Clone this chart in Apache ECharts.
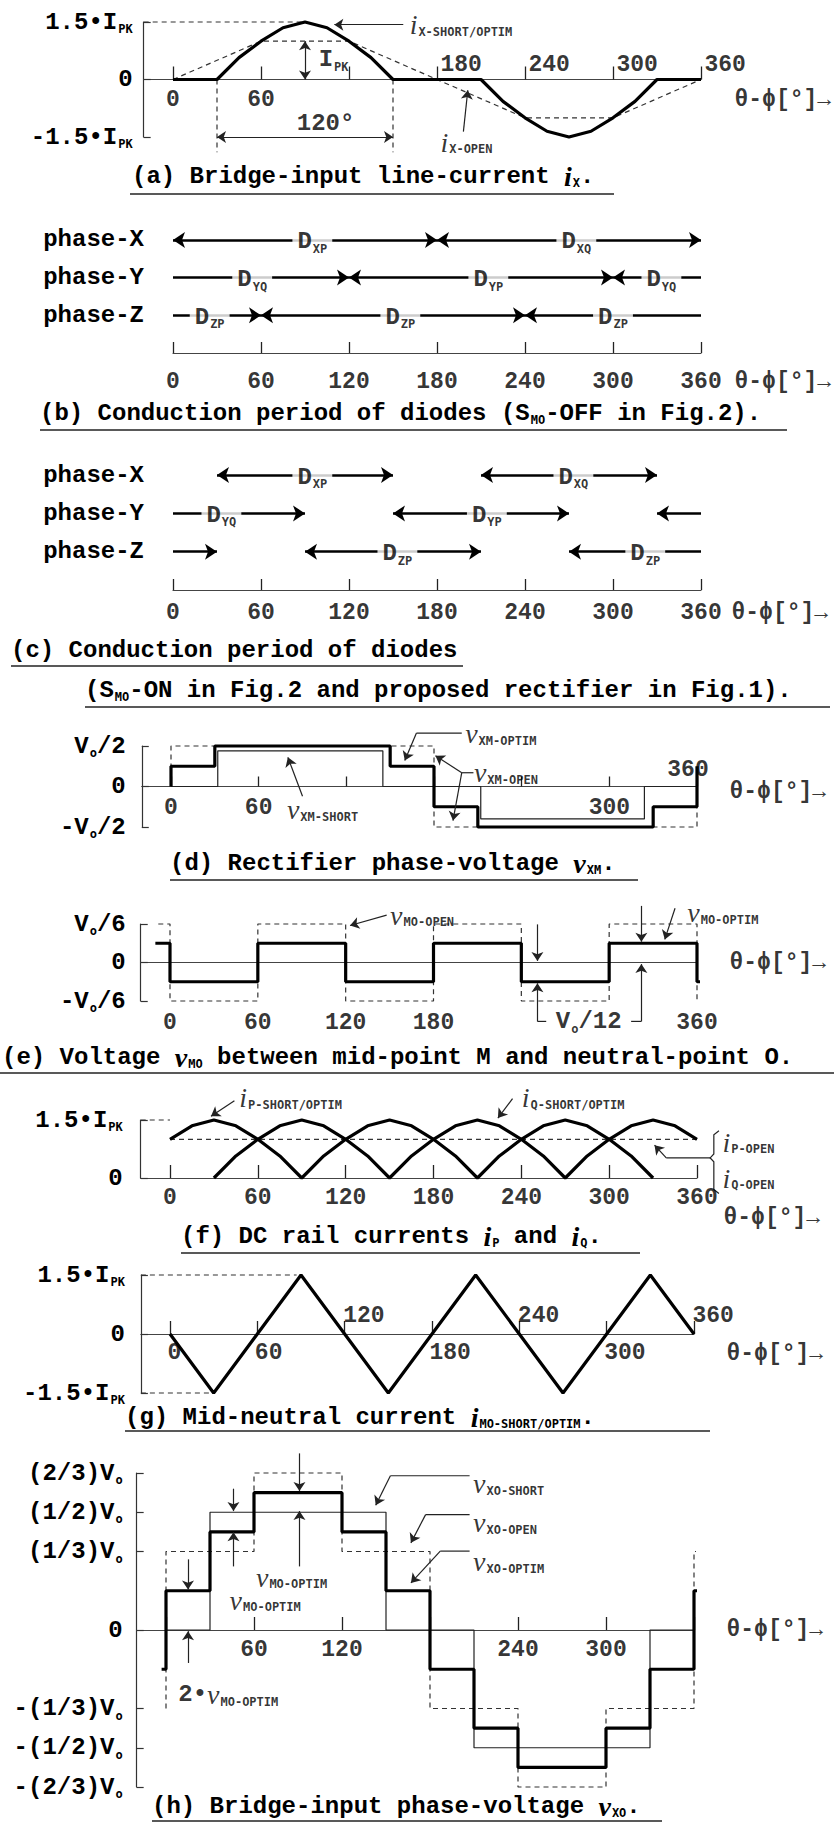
<!DOCTYPE html>
<html><head><meta charset="utf-8">
<script src="https://cdn.jsdelivr.net/npm/echarts@6.0.0/dist/echarts.min.js"></script>
<style>html,body{margin:0;padding:0;background:#fff;}#chart{width:834px;height:1823px;}</style>
</head><body><div id="chart"></div>
<script>
/* ===================== DATA ===================== */
const X_TICKS = [0, 60, 120, 180, 240, 300, 360];
const X_NAME = 'θ-ϕ[°]→';

const CAPTION_TEXTS = [
  '(a) Bridge-input line-current $i_{X}.',
  '(b) Conduction period of diodes (S_{MO}-OFF in Fig.2).',
  '(c) Conduction period of diodes',
  '(S_{MO}-ON in Fig.2 and proposed rectifier in Fig.1).',
  '(d) Rectifier phase-voltage $v_{XM}.',
  '(e) Voltage $v_{MO} between mid-point M and neutral-point O.',
  '(f) DC rail currents $i_{P} and $i_{Q}.',
  '(g) Mid-neutral current $i_{MO-SHORT/OPTIM}.',
  '(h) Bridge-input phase-voltage $v_{XO}.'
];

/* (a) bridge-input line current */
const A_Y_TICKS = [-1.5, 0, 1.5];
const A_Y_LABELS = ['-1.5•I_{PK}', '0', '1.5•I_{PK}'];
const A_XLAB_BELOW = [0, 60];
const A_XLAB_ABOVE = [180, 240, 300, 360];
const A_IX_SHORT_OPTIM = [[0,0],[30,0],[45,0.57],[60,1.0],[75,1.35],[90,1.5],[105,1.35],[120,1.0],[135,0.57],[150,0],[210,0],[225,-0.57],[240,-1.0],[255,-1.35],[270,-1.5],[285,-1.35],[300,-1.0],[315,-0.57],[330,0],[360,0]];
const A_IX_OPEN = [[0,0],[60,1.0],[120,1.0],[180,0],[240,-1.0],[300,-1.0],[360,0]];
const A_GUIDES = [[[-20,1.5],[90,1.5]], [[30,0],[30,-1.9]], [[150,0],[150,-1.9]]];
const A_TEXTS = [
  {txt:'$i_{X-SHORT/OPTIM}', at:[161,1.43]},
  {txt:'I_{PK}', at:[99,0.52]},
  {txt:'120°', at:[104,-1.14], c:true},
  {txt:'$i_{X-OPEN}', at:[182,-1.64]}
];
const A_ARROWS = [[[157,1.43],[110,1.43]], [[198,-1.36],[201,-0.28]]];
const A_ARROWS2 = [[[90,0],[90,1.0]], [[30,-1.5],[150,-1.5]]];

/* (b), (c) conduction periods: [row, from, to, arrowStart, arrowEnd, label, labelAt] */
const ROW_NAMES = ['phase-Z', 'phase-Y', 'phase-X'];
const ROW_LEVELS = [1, 2, 3];
const B_SEGMENTS = [
  [3,0,180,1,1,'D_{XP}',95],[3,180,360,1,1,'D_{XQ}',275],
  [2,0,120,0,1,'D_{YQ}',54],[2,120,300,1,1,'D_{YP}',215],[2,300,360,1,0,'D_{YQ}',333],
  [1,0,60,0,1,'D_{ZP}',25],[1,60,240,1,1,'D_{ZP}',155],[1,240,360,1,0,'D_{ZP}',300]
];
const C_SEGMENTS = [
  [3,30,150,1,1,'D_{XP}',95],[3,210,330,1,1,'D_{XQ}',273],
  [2,0,90,0,1,'D_{YQ}',33],[2,150,270,1,1,'D_{YP}',214],[2,330,360,1,0,'',0],
  [1,0,30,0,1,'',0],[1,90,210,1,1,'D_{ZP}',153],[1,270,360,1,0,'D_{ZP}',322]
];

/* (d) rectifier phase voltage */
const D_Y_TICKS = [-0.5, 0, 0.5];
const D_Y_LABELS = ['-V_{o}/2', '0', 'V_{o}/2'];
const D_XLAB_BELOW = [0, 60, 300];
const D_XLAB_ABOVE = [360];
const D_VXM_OPTIM = [[0,0],[0,0.25],[30,0.25],[30,0.5],[150,0.5],[150,0.25],[180,0.25],[180,-0.25],[210,-0.25],[210,-0.5],[330,-0.5],[330,-0.25],[360,-0.25],[360,0.25]];
const D_VXM_SHORT = [[0,0],[32,0],[32,0.44],[145,0.44],[145,0],[212,0],[212,-0.4],[324,-0.4],[324,0],[360,0]];
const D_VXM_OPEN = [[0,0],[0,0.5],[180,0.5],[180,-0.5],[360,-0.5],[360,0]];
const D_TEXTS = [
  {txt:'$v_{XM-OPTIM}', at:[201,0.65]},
  {txt:'$v_{XM-OPEN}', at:[207,0.17]},
  {txt:'$v_{XM-SHORT}', at:[79,-0.29]}
];
const D_LEADS = [[[199,0.66],[168,0.66]], [[207,0.17],[199,0.17]]];
const D_ARROWS = [[[168,0.66],[160,0.32]], [[199,0.17],[181,0.38]], [[199,0.17],[193,-0.42]], [[90,-0.12],[80,0.36]]];

/* (e) mid-point to neutral voltage */
const E_Y_TICKS = [-1/6, 0, 1/6];
const E_Y_LABELS = ['-V_{o}/6', '0', 'V_{o}/6'];
const E_XLAB_BELOW = [0, 60, 120, 180, 360];
const E_VMO_OPTIM = [[-10,1/12],[0,1/12],[0,-1/12],[60,-1/12],[60,1/12],[120,1/12],[120,-1/12],[180,-1/12],[180,1/12],[240,1/12],[240,-1/12],[300,-1/12],[300,1/12],[360,1/12],[360,-1/12],[368,-1/12]];
const E_VMO_OPEN = [[-8,1/6],[0,1/6],[0,-1/6],[60,-1/6],[60,1/6],[120,1/6],[120,-1/6],[180,-1/6],[180,1/6],[240,1/6],[240,-1/6],[300,-1/6],[300,1/6],[360,1/6],[360,-1/6]];
const E_TEXTS = [
  {txt:'$v_{MO-OPEN}', at:[150,0.205]},
  {txt:'$v_{MO-OPTIM}', at:[353,0.215]},
  {txt:'V_{o}/12', at:[286,-0.256], c:true}
];
const E_LEADS = [[[251,-0.255],[257,-0.255]], [[315,-0.255],[322,-0.255]]];
const E_ARROWS = [[[148,0.205],[123,0.16]], [[345,0.235],[338,0.1]], [[322,0.245],[322,0.09]], [[251,0.165],[251,0.007]], [[251,-0.255],[251,-0.09]], [[322,-0.255],[322,-0.007]]];

/* (f) DC rail currents */
const F_Y_TICKS = [0, 1.5];
const F_Y_LABELS = ['0', '1.5•I_{PK}'];
const F_XLAB_BELOW = [0, 60, 120, 180, 240, 300, 360];
const F_IP = [[0,1.0],[15,1.35],[30,1.5],[45,1.35],[60,1.0],[75,0.57],[90,0],[105,0.57],[120,1.0],[135,1.35],[150,1.5],[165,1.35],[180,1.0],[195,0.57],[210,0],[225,0.57],[240,1.0],[255,1.35],[270,1.5],[285,1.35],[300,1.0],[315,0.57],[330,0]];
const F_IQ = [[30,0],[45,0.57],[60,1.0],[75,1.35],[90,1.5],[105,1.35],[120,1.0],[135,0.57],[150,0],[165,0.57],[180,1.0],[195,1.35],[210,1.5],[225,1.35],[240,1.0],[255,0.57],[270,0],[285,0.57],[300,1.0],[315,1.35],[330,1.5],[345,1.35],[360,1.0]];
const F_OPEN = [[0,1.0],[360,1.0]];
const F_GUIDES = [[[-20,1.5],[0,1.5]]];
const F_TEXTS = [
  {txt:'$i_{P-SHORT/OPTIM}', at:[47,2.07]},
  {txt:'$i_{Q-SHORT/OPTIM}', at:[240,2.07]},
  {txt:'$i_{P-OPEN}', at:[377,0.93]},
  {txt:'$i_{Q-OPEN}', at:[377,0]}
];
const F_LEADS = [[[375,1.22],[371.5,1.12],[371.5,0.62],[369,0.52],[371.5,0.42],[371.5,-0.3],[375,-0.4]], [[369,0.52],[339,0.52]]];
const F_ARROWS = [[[44,2.0],[28,1.6]], [[234,2.05],[224,1.55]], [[339,0.52],[331,0.85]]];

/* (g) mid-neutral current */
const G_Y_TICKS = [-1.5, 0, 1.5];
const G_Y_LABELS = ['-1.5•I_{PK}', '0', '1.5•I_{PK}'];
const G_XLAB_BELOW = [0, 60, 180, 300];
const G_XLAB_ABOVE = [120, 240, 360];
const G_IMO = [[0,0],[30,-1.5],[90,1.5],[150,-1.5],[210,1.5],[270,-1.5],[330,1.5],[360,0]];
const G_GUIDES = [[[-20,1.5],[87,1.5]], [[-20,-1.5],[28,-1.5]]];

/* (h) bridge-input phase voltage */
const H_Y_TICKS = [-2/3, -1/2, -1/3, 0, 1/3, 1/2, 2/3];
const H_Y_LABELS = ['-(2/3)V_{o}', '-(1/2)V_{o}', '-(1/3)V_{o}', '0', '(1/3)V_{o}', '(1/2)V_{o}', '(2/3)V_{o}'];
const H_XLAB_BELOW = [60, 120, 240, 300];
const H_VXO_OPTIM = [[-3,-1/6],[0,-1/6],[0,1/6],[30,1/6],[30,5/12],[60,5/12],[60,7/12],[120,7/12],[120,5/12],[150,5/12],[150,1/6],[180,1/6],[180,-1/6],[210,-1/6],[210,-5/12],[240,-5/12],[240,-7/12],[300,-7/12],[300,-5/12],[330,-5/12],[330,-1/6],[360,-1/6],[360,1/6],[369,1/6]];
const H_VXO_SHORT = [[0,0],[30,0],[30,1/2],[150,1/2],[150,0],[210,0],[210,-1/2],[330,-1/2],[330,0],[360,0]];
const H_VXO_OPEN = [[0,-1/3],[0,1/3],[60,1/3],[60,2/3],[120,2/3],[120,1/3],[180,1/3],[180,-1/3],[240,-1/3],[240,-2/3],[300,-2/3],[300,-1/3],[360,-1/3],[360,1/3],[363,1/3]];
const H_TEXTS = [
  {txt:'$v_{XO-SHORT}', at:[209,0.62]},
  {txt:'$v_{XO-OPEN}', at:[209,0.455]},
  {txt:'$v_{XO-OPTIM}', at:[209,0.29]},
  {txt:'$v_{MO-OPTIM}', at:[61,0.225]},
  {txt:'$v_{MO-OPTIM}', at:[43,0.127]},
  {txt:'2•$v_{MO-OPTIM}', at:[8,-0.275]}
];
const H_LEADS = [[[207,0.655],[153,0.655]], [[207,0.49],[177,0.49]], [[207,0.335],[187,0.335]]];
const H_ARROWS = [[[153,0.655],[143,0.53]], [[177,0.49],[167,0.37]], [[187,0.335],[167,0.2]],
  [[46,0.6],[46,0.505]], [[46,0.27],[46,0.415]], [[91,0.75],[91,0.59]], [[91,0.27],[91,0.505]],
  [[15,0.3],[15,0.172]], [[15,-0.14],[15,-0.005]]];

/* ===================== STYLE / LAYOUT ===================== */
const FONT = "'Liberation Mono','DejaVu Sans Mono',monospace";
const INK = '#000';
const RICH = {
  t: {fontFamily: FONT, fontSize: 24, fontWeight: 'bold', lineHeight: 28, color: INK},
  n: {fontFamily: FONT, fontSize: 23, fontWeight: 'bold', lineHeight: 28, color: INK},
  s: {fontFamily: "'DejaVu Sans Mono','Liberation Mono',monospace", fontSize: 12, fontWeight: 'bold', lineHeight: 12, padding: [14,0,0,1], color: INK},
  i: {fontFamily: "'Liberation Serif','DejaVu Serif',serif", fontStyle: 'italic', fontSize: 28, lineHeight: 28, color: INK}
};
function rt(s, base) {
  const b = base || 't';
  let out = '', buf = '', i = 0;
  const flush = () => { if (buf) { out += '{' + b + '|' + buf + '}'; buf = ''; } };
  while (i < s.length) {
    const c = s[i];
    if (c === '$') { flush(); out += '{i|' + s[i + 1] + '}'; i += 2; continue; }
    if (c === '_' && s[i + 1] === '{') { flush(); const j = s.indexOf('}', i); out += '{s|' + s.slice(i + 2, j) + '}'; i = j + 1; continue; }
    buf += c; i++;
  }
  flush();
  return out;
}

const LAYOUT = {
  a: {x0:173, x360:701, xMin:-20, yTop:22,    yBot:137,  yMin:-1.5, yMax:1.5},
  b: {x0:173, x360:701, xMin:0,   yTop:228.6, yBot:353,  yMin:0,    yMax:3.3},
  c: {x0:173, x360:701, xMin:0,   yTop:463.6, yBot:590,  yMin:0,    yMax:3.3},
  d: {x0:171, x360:697, xMin:-20, yTop:746,   yBot:827,  yMin:-0.5, yMax:0.5},
  e: {x0:170, x360:697, xMin:-20, yTop:924,   yBot:1001, yMin:-1/6, yMax:1/6},
  f: {x0:170, x360:697, xMin:-20, yTop:1120,  yBot:1178, yMin:0,    yMax:1.5},
  g: {x0:170, x360:694, xMin:-20, yTop:1275,  yBot:1393, yMin:-1.5, yMax:1.5},
  h: {x0:166, x360:694, xMin:-20, yTop:1473,  yBot:1787, yMin:-2/3, yMax:2/3}
};
/* tick-label placement (pixel offsets from the tick on the zero line) */
const AXCFG = {
  a: {yTicks:A_Y_TICKS, yLabels:A_Y_LABELS, yMargin:11, tick:13, below:A_XLAB_BELOW, bOff:[0,20], above:A_XLAB_ABOVE, aLeft:true, aOff:[3,-15], nameOff:[33,20]},
  b: {rows:true, yMargin:29, tick:11, below:X_TICKS, bOff:[0,29], nameOff:[33,29]},
  c: {rows:true, yMargin:29, tick:11, below:X_TICKS, bOff:[0,23], nameOff:[30,23]},
  d: {yTicks:D_Y_TICKS, yLabels:D_Y_LABELS, yMargin:16, tick:10, below:D_XLAB_BELOW, bOff:[0,21], above:D_XLAB_ABOVE, aOff:[-9,-17], nameOff:[32,5]},
  e: {yTicks:E_Y_TICKS, yLabels:E_Y_LABELS, yMargin:15, tick:0, below:E_XLAB_BELOW, bOff:[0,60], nameOff:[32,0]},
  f: {yTicks:F_Y_TICKS, yLabels:F_Y_LABELS, yMargin:18, tick:13, below:F_XLAB_BELOW, bOff:[0,20], nameOff:[26,40]},
  g: {yTicks:G_Y_TICKS, yLabels:G_Y_LABELS, yMargin:16, tick:13, below:G_XLAB_BELOW, bLeft:true, bOff:[-3,19], above:G_XLAB_ABOVE, aLeft:true, aOff:[-2,-18], nameOff:[32,20]},
  h: {yTicks:H_Y_TICKS, yLabels:H_Y_LABELS, yMargin:14, tick:13, below:H_XLAB_BELOW, bOff:[0,20], nameOff:[32,0]}
};
const CAPTION_POS = [[132,176,130,614,194],[40,413,40,787,430],[11,650,11,463,666],[85,690,85,830,707],[170,863,170,638,880],[2,1057,0,834,1073],[181,1236,181,640,1253],[125,1417,125,710,1431],[152,1806,152,662,1821]];

const THICK = {color:'#000', width:3.2};
const THIN = {color:'#222', width:1.2};
const DASH = {color:'#333', width:1.2, type:[5,4]};

/* ===================== BUILD ===================== */
const KEYS = ['a','b','c','d','e','f','g','h'];
const grids = [], xAxes = [], yAxes = [], series = [];

function wave(gi, data, style, z) {
  return {type:'line', xAxisIndex:gi, yAxisIndex:gi, data:data, symbol:'none', showSymbol:false, clip:false,
    silent:true, z:z || 3, lineStyle:style, emphasis:{disabled:true}, animation:false};
}
function segs(gi, list, symbol, size, style, z) {
  if (!list.length) return null;
  return {type:'lines', coordinateSystem:'cartesian2d', xAxisIndex:gi, yAxisIndex:gi, polyline: symbol === 'none',
    symbol: symbol === 'none' ? ['none','none'] : symbol, symbolSize:size, clip:false, silent:true, z:z || 6, animation:false,
    lineStyle:Object.assign({opacity:1, curveness:0}, style), data:list.map(c => ({coords:c}))};
}
function texts(gi, items, extra, base) {
  return {type:'scatter', xAxisIndex:gi, yAxisIndex:gi, symbol:'circle', symbolSize:1, clip:false, silent:true, z:10, animation:false,
    itemStyle:{color:'rgba(0,0,0,0)'}, emphasis:{disabled:true},
    data: items.map(it => ({value:it.at, txt:it.txt, label:{position: it.c ? 'inside' : 'right', offset: it.off || [0,0]}})),
    label: Object.assign({show:true, distance:0, rich:RICH, color:INK, formatter: p => rt(p.data.txt, base)}, extra || {})};
}

KEYS.forEach((k, gi) => {
  const L = LAYOUT[k], C = AXCFG[k];
  const ppd = (L.x360 - L.x0) / 360;
  const left = L.x0 + L.xMin * ppd;
  grids.push({left:left, top:L.yTop, width:L.x360 - left, height:L.yBot - L.yTop, containLabel:false, outerBoundsMode:'none'});
  xAxes.push({
    type:'value', gridIndex:gi, min:L.xMin, max:360,
    axisLine:{show:true, onZero:true, lineStyle:{color:'#444', width:1.2}},
    axisTick:{show:C.tick > 0, inside:true, length:C.tick, customValues:X_TICKS, lineStyle:{color:'#222', width:1.3}},
    axisLabel:{show:false},
    splitLine:{show:false}
  });
  if (C.rows) {
    yAxes.push({type:'value', gridIndex:gi, min:L.yMin, max:L.yMax,
      axisLine:{show:false}, axisTick:{show:false}, splitLine:{show:false},
      axisLabel:{customValues:ROW_LEVELS, margin:C.yMargin, fontFamily:FONT, fontWeight:'bold', fontSize:24, color:INK,
        formatter: v => { const i = ROW_LEVELS.indexOf(Math.round(v)); return i >= 0 ? ROW_NAMES[i] : ''; }}});
  } else {
    yAxes.push({type:'value', gridIndex:gi, min:L.yMin, max:L.yMax,
      axisLine:{show:true, onZero:false, lineStyle:{color:'#333', width:1.2}},
      axisTick:{show:true, inside:true, length:7, customValues:C.yTicks, lineStyle:{color:'#333', width:1.2}},
      splitLine:{show:false},
      axisLabel:{customValues:C.yTicks, margin:C.yMargin, rich:RICH, color:INK,
        formatter: v => { const i = C.yTicks.findIndex(t => Math.abs(t - v) < 1e-6); return i >= 0 ? rt(C.yLabels[i]) : ''; }}});
  }
  /* x tick labels, axis name */
  const tl = C.below.map(v => ({txt:String(v), at:[v,0], c:!C.bLeft, off:C.bOff}));
  if (C.above) C.above.forEach(v => tl.push({txt:String(v), at:[v,0], c:!C.aLeft, off:C.aOff}));
  tl.push({txt:X_NAME, at:[360,0], off:C.nameOff});
  series.push(texts(gi, tl, null, 'n'));
});

function idx(k) { return KEYS.indexOf(k); }
function push(s) { if (s) series.push(s); }

/* (a) */
push(wave(idx('a'), A_IX_OPEN, DASH, 2));
push(segs(idx('a'), A_GUIDES, 'none', 0, DASH, 2));
push(wave(idx('a'), A_IX_SHORT_OPTIM, THICK, 4));
push(segs(idx('a'), A_ARROWS, ['none','arrow'], 9, THIN));
push(segs(idx('a'), A_ARROWS2, ['arrow','arrow'], 9, THIN));
push(texts(idx('a'), A_TEXTS));

/* (b), (c) */
function rows(k, list) {
  const gi = idx(k);
  const groups = {'11':[], '01':[], '10':[]};
  list.forEach(s => groups['' + s[3] + s[4]].push([[s[1], s[0]], [s[2], s[0]]]));
  push(segs(gi, groups['11'], ['arrow','arrow'], 12, {color:'#000', width:2.6}));
  push(segs(gi, groups['01'], ['none','arrow'], 12, {color:'#000', width:2.6}));
  push(segs(gi, groups['10'], ['arrow','none'], 12, {color:'#000', width:2.6}));
  const labels = list.filter(s => s[5]).map(s => ({txt:s[5], at:[s[6], s[0]], c:true, off:[0,2]}));
  push(texts(gi, labels, {backgroundColor:'#fff', padding:[0,5]}));
}
rows('b', B_SEGMENTS);
rows('c', C_SEGMENTS);

/* (d) */
push(wave(idx('d'), D_VXM_OPEN, DASH, 2));
push(wave(idx('d'), D_VXM_SHORT, THIN, 3));
push(wave(idx('d'), D_VXM_OPTIM, THICK, 4));
push(segs(idx('d'), D_LEADS, 'none', 0, THIN));
push(segs(idx('d'), D_ARROWS, ['none','arrow'], 9, THIN));
push(texts(idx('d'), D_TEXTS));

/* (e) */
push(wave(idx('e'), E_VMO_OPEN, DASH, 2));
push(wave(idx('e'), E_VMO_OPTIM, THICK, 4));
push(segs(idx('e'), E_LEADS, 'none', 0, THIN));
push(segs(idx('e'), E_ARROWS, ['none','arrow'], 9, THIN));
push(texts(idx('e'), E_TEXTS));

/* (f) */
push(wave(idx('f'), F_OPEN, DASH, 2));
push(segs(idx('f'), F_GUIDES, 'none', 0, DASH, 2));
push(wave(idx('f'), F_IP, THICK, 4));
push(wave(idx('f'), F_IQ, THICK, 4));
push(segs(idx('f'), F_LEADS, 'none', 0, THIN));
push(segs(idx('f'), F_ARROWS, ['none','arrow'], 9, THIN));
push(texts(idx('f'), F_TEXTS));

/* (g) */
push(segs(idx('g'), G_GUIDES, 'none', 0, DASH, 2));
push(wave(idx('g'), G_IMO, THICK, 4));

/* (h) */
push(wave(idx('h'), H_VXO_OPEN, DASH, 2));
push(wave(idx('h'), H_VXO_SHORT, THIN, 3));
push(wave(idx('h'), H_VXO_OPTIM, THICK, 4));
push(segs(idx('h'), H_LEADS, 'none', 0, THIN));
push(segs(idx('h'), H_ARROWS, ['none','arrow'], 9, THIN));
push(texts(idx('h'), H_TEXTS));

/* captions */
const titles = CAPTION_TEXTS.map((t, i) => ({
  text: rt(t), left: CAPTION_POS[i][0], top: CAPTION_POS[i][1] - 14, padding: 0,
  textStyle: {rich: RICH, fontFamily: FONT, fontSize: 24, color: INK, fontWeight: 'bold'}
}));
const graphic = CAPTION_POS.map(p => ({type:'line', silent:true,
  shape:{x1:p[2], y1:p[4], x2:p[3], y2:p[4]}, style:{stroke:'#222', lineWidth:1.5}}));

const chart = echarts.init(document.getElementById('chart'), null, {renderer:'svg'});
chart.setOption({
  animation:false,
  backgroundColor:'#fff',
  textStyle:{fontFamily:FONT},
  title: titles,
  graphic: graphic,
  grid: grids, xAxis: xAxes, yAxis: yAxes,
  tooltip:{show:false},
  series: series
});
</script>
</body></html>
